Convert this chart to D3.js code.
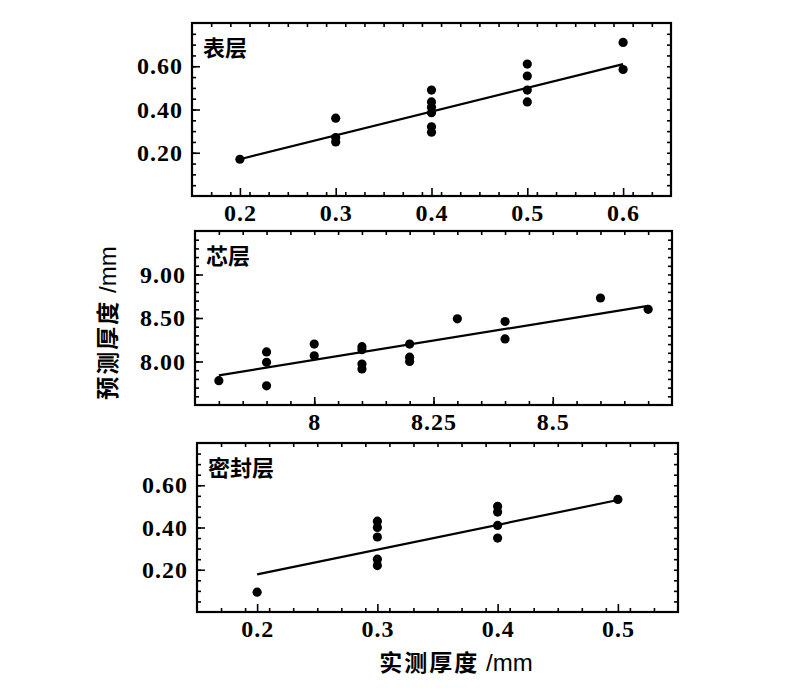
<!DOCTYPE html>
<html><head><meta charset="utf-8">
<script src="https://cdn.jsdelivr.net/npm/d3@7"></script>
<style>
body{margin:0;background:#fff;}
svg{display:block;}
.tick text{font-family:"Liberation Serif","DejaVu Serif",serif;font-weight:bold;font-size:24px;fill:#000;letter-spacing:1px;}
.tick line{stroke:#000;stroke-width:1.6px;}
</style>
</head><body>
<svg id="c" width="799" height="688"></svg>
<script>
// ---- data ----
const panelNames = ["表层", "芯层", "密封层"];
// 表层
const surfX = [0.2, 0.3, 0.3, 0.3, 0.4, 0.4, 0.4, 0.4, 0.4, 0.4, 0.5, 0.5, 0.5, 0.5, 0.6, 0.6];
const surfY = [0.17, 0.36, 0.27, 0.25, 0.49, 0.435, 0.41, 0.385, 0.32, 0.295, 0.61, 0.555, 0.49, 0.435, 0.71, 0.585];
const surfFitX = [0.2, 0.6];
const surfFitY = [0.17, 0.61];
const surfXTicks = [0.2, 0.3, 0.4, 0.5, 0.6];
const surfYTicks = [0.20, 0.40, 0.60];
// 芯层
const coreX = [7.8, 7.9, 7.9, 7.9, 8.0, 8.0, 8.1, 8.1, 8.1, 8.1, 8.2, 8.2, 8.2, 8.3, 8.4, 8.4, 8.6, 8.7];
const coreY = [7.78, 8.11, 7.99, 7.72, 8.20, 8.065, 8.17, 8.135, 7.97, 7.915, 8.20, 8.05, 8.0, 8.49, 8.46, 8.26, 8.73, 8.60];
const coreFitX = [7.8, 8.7];
const coreFitY = [7.84, 8.64];
const coreXTicks = [8, 8.25, 8.5];
const coreYTicks = [8.00, 8.50, 9.00];
// 密封层
const sealX = [0.2, 0.3, 0.3, 0.3, 0.3, 0.3, 0.4, 0.4, 0.4, 0.4, 0.5];
const sealY = [0.094, 0.43, 0.40, 0.355, 0.25, 0.22, 0.50, 0.473, 0.41, 0.35, 0.533];
const sealFitX = [0.2, 0.5];
const sealFitY = [0.178, 0.53];
const sealXTicks = [0.2, 0.3, 0.4, 0.5];
const sealYTicks = [0.20, 0.40, 0.60];

const xTitle = "实测厚度";
const yTitle = "预测厚度";
const unit = " /mm";

// ---- layout ----
const panels = [
  {name: panelNames[0], xs: surfX, ys: surfY, fx: surfFitX, fy: surfFitY, xt: surfXTicks, yt: surfYTicks,
   xDom: [0.15, 0.65], yDom: [0, 0.8], xMinor: 0.02, yMinor: 0.05, xFmt: d3.format(".1f"), yFmt: d3.format(".2f"),
   box: {L: 192, R: 671, T: 23, B: 196}},
  {name: panelNames[1], xs: coreX, ys: coreY, fx: coreFitX, fy: coreFitY, xt: coreXTicks, yt: coreYTicks,
   xDom: [7.75, 8.75], yDom: [7.5, 9.5], xMinor: 0.05, yMinor: 0.1, xFmt: d => String(d), yFmt: d3.format(".2f"),
   box: {L: 195, R: 672, T: 231, B: 405}},
  {name: panelNames[2], xs: sealX, ys: sealY, fx: sealFitX, fy: sealFitY, xt: sealXTicks, yt: sealYTicks,
   xDom: [0.15, 0.55], yDom: [0, 0.8], xMinor: 0.02, yMinor: 0.05, xFmt: d3.format(".1f"), yFmt: d3.format(".2f"),
   box: {L: 197, R: 678, T: 443, B: 612}}
];

const svg = d3.select("#c");

function range(a, b, s) {
  const out = [];
  const n = Math.round((b - a) / s);
  for (let i = 0; i <= n; i++) out.push(+(a + i * s).toFixed(6));
  return out;
}

panels.forEach(p => {
  const {L, R, T, B} = p.box;
  const x = d3.scaleLinear().domain(p.xDom).range([L, R]);
  const y = d3.scaleLinear().domain(p.yDom).range([B, T]);
  const g = svg.append("g");
  const xm = range(p.xDom[0], p.xDom[1], p.xMinor).filter(v => v > p.xDom[0] + 1e-9 && v < p.xDom[1] - 1e-9);
  const ym = range(p.yDom[0], p.yDom[1], p.yMinor).filter(v => v > p.yDom[0] + 1e-9 && v < p.yDom[1] - 1e-9);

  // minor ticks, all four sides, inward
  g.append("g").attr("transform", `translate(0,${B})`).call(d3.axisBottom(x).tickValues(xm).tickSize(-4).tickFormat(""));
  g.append("g").attr("transform", `translate(0,${T})`).call(d3.axisTop(x).tickValues(xm).tickSize(-4).tickFormat(""));
  g.append("g").attr("transform", `translate(${L},0)`).call(d3.axisLeft(y).tickValues(ym).tickSize(-4).tickFormat(""));
  g.append("g").attr("transform", `translate(${R},0)`).call(d3.axisRight(y).tickValues(ym).tickSize(-4).tickFormat(""));
  // major ticks with labels
  g.append("g").attr("transform", `translate(0,${B})`)
    .call(d3.axisBottom(x).tickValues(p.xt).tickSize(-8).tickPadding(8).tickFormat(p.xFmt));
  g.append("g").attr("transform", `translate(${L},0)`)
    .call(d3.axisLeft(y).tickValues(p.yt).tickSize(-8).tickPadding(9).tickFormat(p.yFmt));
  g.selectAll(".domain").remove();

  // frame
  g.append("rect").attr("x", L).attr("y", T).attr("width", R - L).attr("height", B - T)
    .attr("fill", "none").attr("stroke", "#000").attr("stroke-width", 2.2);

  // fit line
  g.append("line")
    .attr("x1", x(p.fx[0])).attr("y1", y(p.fy[0]))
    .attr("x2", x(p.fx[1])).attr("y2", y(p.fy[1]))
    .attr("stroke", "#000").attr("stroke-width", 2.2);

  // points
  g.selectAll("circle.pt").data(p.xs.map((v, i) => [v, p.ys[i]])).join("circle")
    .attr("class", "pt").attr("cx", d => x(d[0])).attr("cy", d => y(d[1])).attr("r", 4.6).attr("fill", "#000");

  // panel label
  g.append("text").attr("x", L + 11).attr("y", T + 33)
    .attr("font-family", "'Noto Sans CJK SC', sans-serif").attr("font-weight", "bold")
    .attr("font-size", 22).attr("fill", "#000").text(p.name);
});

// axis titles
const xt = svg.append("text").attr("x", 456).attr("y", 671).attr("text-anchor", "middle").attr("fill", "#000");
xt.append("tspan").attr("font-family", "'Noto Sans CJK SC', sans-serif").attr("font-weight", "bold")
  .attr("font-size", 23).attr("letter-spacing", "2px").text(xTitle);
xt.append("tspan").attr("font-family", "'Liberation Sans', sans-serif").attr("font-size", 24).text(unit);

const yt = svg.append("text").attr("transform", "translate(116,323) rotate(-90)").attr("text-anchor", "middle").attr("fill", "#000");
yt.append("tspan").attr("font-family", "'Noto Sans CJK SC', sans-serif").attr("font-weight", "bold")
  .attr("font-size", 23).attr("letter-spacing", "2px").text(yTitle);
yt.append("tspan").attr("font-family", "'Liberation Sans', sans-serif").attr("font-size", 24).text(unit);
</script>
</body></html>
